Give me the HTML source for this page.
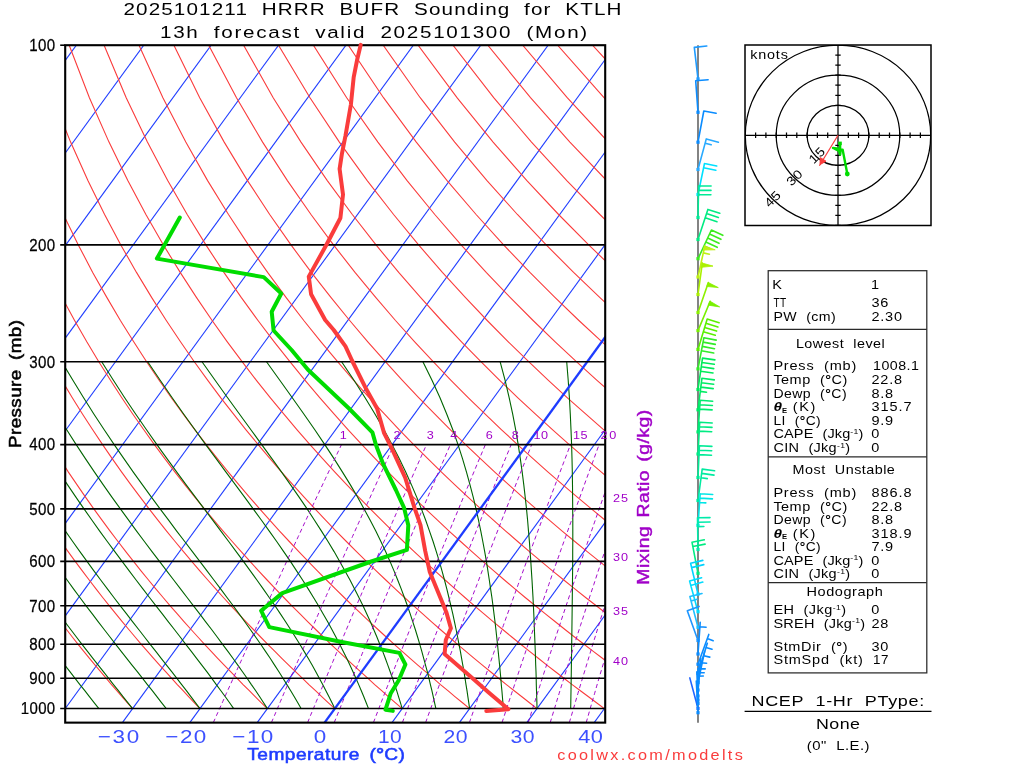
<!DOCTYPE html>
<html lang="en"><head><meta charset="utf-8"><title>2025101211 HRRR BUFR Sounding for KTLH</title>
<style>html,body{margin:0;padding:0;background:#fff}body{width:1024px;height:768px;overflow:hidden}svg{display:block}text{font-family:"Liberation Sans",sans-serif;white-space:pre}</style>
</head><body>
<svg width="1024" height="768" viewBox="0 0 1024 768">
<rect width="1024" height="768" fill="#fff"/>
<defs><clipPath id="pc"><rect x="65.2" y="45.20" width="540.0" height="677.43"/></clipPath></defs>
<g clip-path="url(#pc)" fill="none" stroke-linecap="butt">
<g stroke="#1E3CFF" stroke-width="1.1">
<line x1="-484.21" y1="722.63" x2="8.96" y2="45.20"/>
<line x1="-416.81" y1="722.63" x2="76.36" y2="45.20"/>
<line x1="-349.41" y1="722.63" x2="143.76" y2="45.20"/>
<line x1="-282.01" y1="722.63" x2="211.16" y2="45.20"/>
<line x1="-214.61" y1="722.63" x2="278.56" y2="45.20"/>
<line x1="-147.21" y1="722.63" x2="345.96" y2="45.20"/>
<line x1="-79.81" y1="722.63" x2="413.36" y2="45.20"/>
<line x1="-12.41" y1="722.63" x2="480.76" y2="45.20"/>
<line x1="54.99" y1="722.63" x2="548.16" y2="45.20"/>
<line x1="122.39" y1="722.63" x2="615.56" y2="45.20"/>
<line x1="189.79" y1="722.63" x2="682.96" y2="45.20"/>
<line x1="257.19" y1="722.63" x2="750.36" y2="45.20"/>
<line x1="391.99" y1="722.63" x2="885.16" y2="45.20"/>
<line x1="459.39" y1="722.63" x2="952.56" y2="45.20"/>
<line x1="526.79" y1="722.63" x2="1019.96" y2="45.20"/>
<line x1="594.19" y1="722.63" x2="1087.36" y2="45.20"/>
</g>
<g stroke="#FA3C3C" stroke-width="1.1">
<polyline points="132.6,708.6 127.4,702.8 122.2,696.8 116.8,690.7 111.5,684.6 106.1,678.2 100.6,671.7 95.1,665.1 89.5,658.3 83.8,651.4 78.1,644.3 72.3,637.0 66.5,629.5 60.5,621.8 54.6,613.9 48.5,605.8 42.4,597.5 36.1,588.9 29.8,580.0 23.5,570.9 17.0,561.4 10.4,551.6 3.8,541.5 -2.9,531.1 -9.8,520.2 -16.7,508.9 -23.7,497.1 -30.9,484.9 -38.2,472.1 -45.5,458.6 -53.0,444.6 -60.6,429.8 -68.3,414.2 -76.2,397.8 -84.2,380.3 -92.3,361.7 -100.5,341.8 -108.8,320.5 -117.3,297.4 -125.8,272.4 -134.4,244.9 -143.0,214.5 -151.5,180.6 -159.9,142.1 -167.8,97.7 -175.0,45.2"/>
<polyline points="200.0,708.6 194.4,702.8 188.8,696.8 183.1,690.7 177.3,684.6 171.5,678.2 165.6,671.7 159.6,665.1 153.6,658.3 147.5,651.4 141.3,644.3 135.1,637.0 128.8,629.5 122.4,621.8 115.9,613.9 109.4,605.8 102.7,597.5 96.0,588.9 89.2,580.0 82.3,570.9 75.2,561.4 68.1,551.6 60.9,541.5 53.6,531.1 46.1,520.2 38.6,508.9 30.9,497.1 23.1,484.9 15.1,472.1 7.1,458.6 -1.1,444.6 -9.5,429.8 -18.0,414.2 -26.7,397.8 -35.5,380.3 -44.5,361.7 -53.7,341.8 -63.0,320.5 -72.5,297.4 -82.1,272.4 -91.9,244.9 -101.7,214.5 -111.6,180.6 -121.5,142.1 -131.1,97.7 -140.1,45.2"/>
<polyline points="267.4,708.6 261.4,702.8 255.4,696.8 249.3,690.7 243.1,684.6 236.9,678.2 230.6,671.7 224.2,665.1 217.7,658.3 211.2,651.4 204.6,644.3 197.9,637.0 191.1,629.5 184.2,621.8 177.3,613.9 170.2,605.8 163.1,597.5 155.8,588.9 148.5,580.0 141.0,570.9 133.5,561.4 125.8,551.6 118.0,541.5 110.1,531.1 102.0,520.2 93.8,508.9 85.5,497.1 77.1,484.9 68.4,472.1 59.7,458.6 50.7,444.6 41.6,429.8 32.3,414.2 22.8,397.8 13.1,380.3 3.3,361.7 -6.8,341.8 -17.1,320.5 -27.6,297.4 -38.4,272.4 -49.3,244.9 -60.5,214.5 -71.7,180.6 -83.1,142.1 -94.3,97.7 -105.2,45.2"/>
<polyline points="334.8,708.6 328.4,702.8 322.0,696.8 315.5,690.7 308.9,684.6 302.3,678.2 295.5,671.7 288.7,665.1 281.8,658.3 274.9,651.4 267.8,644.3 260.6,637.0 253.4,629.5 246.1,621.8 238.6,613.9 231.1,605.8 223.4,597.5 215.7,588.9 207.8,580.0 199.8,570.9 191.7,561.4 183.5,551.6 175.1,541.5 166.6,531.1 157.9,520.2 149.1,508.9 140.2,497.1 131.0,484.9 121.7,472.1 112.2,458.6 102.6,444.6 92.7,429.8 82.6,414.2 72.3,397.8 61.8,380.3 51.0,361.7 40.0,341.8 28.7,320.5 17.2,297.4 5.3,272.4 -6.8,244.9 -19.2,214.5 -31.8,180.6 -44.7,142.1 -57.6,97.7 -70.3,45.2"/>
<polyline points="402.2,708.6 395.5,702.8 388.6,696.8 381.7,690.7 374.7,684.6 367.7,678.2 360.5,671.7 353.3,665.1 346.0,658.3 338.5,651.4 331.0,644.3 323.4,637.0 315.7,629.5 307.9,621.8 300.0,613.9 291.9,605.8 283.8,597.5 275.5,588.9 267.1,580.0 258.6,570.9 250.0,561.4 241.2,551.6 232.2,541.5 223.1,531.1 213.8,520.2 204.4,508.9 194.8,497.1 185.0,484.9 175.0,472.1 164.8,458.6 154.4,444.6 143.8,429.8 132.9,414.2 121.8,397.8 110.5,380.3 98.8,361.7 86.8,341.8 74.6,320.5 62.0,297.4 49.0,272.4 35.7,244.9 22.1,214.5 8.1,180.6 -6.2,142.1 -20.8,97.7 -35.5,45.2"/>
<polyline points="469.6,708.6 462.5,702.8 455.2,696.8 447.9,690.7 440.5,684.6 433.1,678.2 425.5,671.7 417.8,665.1 410.1,658.3 402.2,651.4 394.3,644.3 386.2,637.0 378.0,629.5 369.7,621.8 361.3,613.9 352.8,605.8 344.2,597.5 335.4,588.9 326.5,580.0 317.4,570.9 308.2,561.4 298.8,551.6 289.3,541.5 279.6,531.1 269.7,520.2 259.7,508.9 249.4,497.1 239.0,484.9 228.3,472.1 217.4,458.6 206.3,444.6 194.9,429.8 183.3,414.2 171.3,397.8 159.1,380.3 146.6,361.7 133.7,341.8 120.4,320.5 106.8,297.4 92.7,272.4 78.3,244.9 63.4,214.5 48.0,180.6 32.2,142.1 15.9,97.7 -0.6,45.2"/>
<polyline points="537.0,708.6 529.5,702.8 521.9,696.8 514.2,690.7 506.4,684.6 498.5,678.2 490.5,671.7 482.4,665.1 474.2,658.3 465.9,651.4 457.5,644.3 449.0,637.0 440.3,629.5 431.6,621.8 422.7,613.9 413.7,605.8 404.5,597.5 395.2,588.9 385.8,580.0 376.2,570.9 366.4,561.4 356.5,551.6 346.4,541.5 336.1,531.1 325.6,520.2 315.0,508.9 304.1,497.1 293.0,484.9 281.6,472.1 270.0,458.6 258.2,444.6 246.0,429.8 233.6,414.2 220.8,397.8 207.8,380.3 194.3,361.7 180.5,341.8 166.3,320.5 151.6,297.4 136.5,272.4 120.8,244.9 104.6,214.5 87.9,180.6 70.6,142.1 52.7,97.7 34.3,45.2"/>
<polyline points="604.4,708.6 596.5,702.8 588.5,696.8 580.4,690.7 572.2,684.6 563.9,678.2 555.5,671.7 546.9,665.1 538.3,658.3 529.6,651.4 520.7,644.3 511.8,637.0 502.7,629.5 493.4,621.8 484.0,613.9 474.5,605.8 464.9,597.5 455.1,588.9 445.1,580.0 435.0,570.9 424.7,561.4 414.2,551.6 403.5,541.5 392.6,531.1 381.5,520.2 370.2,508.9 358.7,497.1 346.9,484.9 334.9,472.1 322.6,458.6 310.0,444.6 297.1,429.8 283.9,414.2 270.4,397.8 256.4,380.3 242.1,361.7 227.3,341.8 212.1,320.5 196.4,297.4 180.2,272.4 163.4,244.9 145.9,214.5 127.8,180.6 109.0,142.1 89.4,97.7 69.2,45.2"/>
<polyline points="671.8,708.6 663.5,702.8 655.1,696.8 646.6,690.7 638.0,684.6 629.3,678.2 620.4,671.7 611.5,665.1 602.4,658.3 593.3,651.4 584.0,644.3 574.5,637.0 565.0,629.5 555.3,621.8 545.4,613.9 535.4,605.8 525.2,597.5 514.9,588.9 504.4,580.0 493.8,570.9 482.9,561.4 471.9,551.6 460.6,541.5 449.1,531.1 437.5,520.2 425.5,508.9 413.4,497.1 400.9,484.9 388.2,472.1 375.2,458.6 361.9,444.6 348.2,429.8 334.2,414.2 319.9,397.8 305.1,380.3 289.9,361.7 274.2,341.8 258.0,320.5 241.2,297.4 223.9,272.4 205.9,244.9 187.2,214.5 167.7,180.6 147.4,142.1 126.2,97.7 104.1,45.2"/>
<polyline points="739.2,708.6 730.5,702.8 721.7,696.8 712.8,690.7 703.8,684.6 694.7,678.2 685.4,671.7 676.1,665.1 666.6,658.3 656.9,651.4 647.2,644.3 637.3,637.0 627.3,629.5 617.1,621.8 606.8,613.9 596.3,605.8 585.6,597.5 574.8,588.9 563.8,580.0 552.5,570.9 541.1,561.4 529.5,551.6 517.7,541.5 505.7,531.1 493.4,520.2 480.8,508.9 468.0,497.1 454.9,484.9 441.5,472.1 427.8,458.6 413.7,444.6 399.3,429.8 384.6,414.2 369.4,397.8 353.7,380.3 337.6,361.7 321.0,341.8 303.8,320.5 286.0,297.4 267.6,272.4 248.4,244.9 228.5,214.5 207.6,180.6 185.8,142.1 162.9,97.7 139.0,45.2"/>
<polyline points="806.6,708.6 797.5,702.8 788.3,696.8 779.0,690.7 769.6,684.6 760.1,678.2 750.4,671.7 740.6,665.1 730.7,658.3 720.6,651.4 710.4,644.3 700.1,637.0 689.6,629.5 678.9,621.8 668.1,613.9 657.1,605.8 646.0,597.5 634.6,588.9 623.1,580.0 611.3,570.9 599.4,561.4 587.2,551.6 574.8,541.5 562.2,531.1 549.3,520.2 536.1,508.9 522.6,497.1 508.9,484.9 494.8,472.1 480.4,458.6 465.6,444.6 450.5,429.8 434.9,414.2 418.9,397.8 402.4,380.3 385.4,361.7 367.8,341.8 349.7,320.5 330.9,297.4 311.3,272.4 291.0,244.9 269.7,214.5 247.5,180.6 224.2,142.1 199.7,97.7 173.9,45.2"/>
<polyline points="874.0,708.6 864.5,702.8 855.0,696.8 845.2,690.7 835.4,684.6 825.5,678.2 815.4,671.7 805.2,665.1 794.8,658.3 784.3,651.4 773.7,644.3 762.9,637.0 751.9,629.5 740.8,621.8 729.5,613.9 718.0,605.8 706.3,597.5 694.5,588.9 682.4,580.0 670.1,570.9 657.6,561.4 644.9,551.6 631.9,541.5 618.7,531.1 605.2,520.2 591.4,508.9 577.3,497.1 562.9,484.9 548.1,472.1 533.0,458.6 517.5,444.6 501.6,429.8 485.2,414.2 468.4,397.8 451.0,380.3 433.2,361.7 414.7,341.8 395.5,320.5 375.7,297.4 355.0,272.4 333.5,244.9 311.0,214.5 287.4,180.6 262.6,142.1 236.5,97.7 208.7,45.2"/>
<polyline points="941.4,708.6 931.6,702.8 921.6,696.8 911.5,690.7 901.2,684.6 890.9,678.2 880.4,671.7 869.7,665.1 858.9,658.3 848.0,651.4 836.9,644.3 825.6,637.0 814.2,629.5 802.6,621.8 790.8,613.9 778.9,605.8 766.7,597.5 754.3,588.9 741.7,580.0 728.9,570.9 715.9,561.4 702.6,551.6 689.0,541.5 675.2,531.1 661.1,520.2 646.6,508.9 631.9,497.1 616.8,484.9 601.4,472.1 585.6,458.6 569.3,444.6 552.7,429.8 535.5,414.2 517.9,397.8 499.7,380.3 480.9,361.7 461.5,341.8 441.4,320.5 420.5,297.4 398.7,272.4 376.0,244.9 352.3,214.5 327.3,180.6 301.0,142.1 273.2,97.7 243.6,45.2"/>
<polyline points="1008.8,708.6 998.6,702.8 988.2,696.8 977.7,690.7 967.0,684.6 956.3,678.2 945.3,671.7 934.3,665.1 923.1,658.3 911.7,651.4 900.1,644.3 888.4,637.0 876.5,629.5 864.5,621.8 852.2,613.9 839.7,605.8 827.1,597.5 814.2,588.9 801.0,580.0 787.7,570.9 774.1,561.4 760.2,551.6 746.1,541.5 731.7,531.1 717.0,520.2 701.9,508.9 686.5,497.1 670.8,484.9 654.7,472.1 638.2,458.6 621.2,444.6 603.8,429.8 585.9,414.2 567.4,397.8 548.4,380.3 528.7,361.7 508.3,341.8 487.2,320.5 465.3,297.4 442.4,272.4 418.6,244.9 393.6,214.5 367.2,180.6 339.4,142.1 310.0,97.7 278.5,45.2"/>
<polyline points="1076.2,708.6 1065.6,702.8 1054.8,696.8 1043.9,690.7 1032.9,684.6 1021.7,678.2 1010.3,671.7 998.8,665.1 987.2,658.3 975.4,651.4 963.4,644.3 951.2,637.0 938.8,629.5 926.3,621.8 913.5,613.9 900.6,605.8 887.4,597.5 874.0,588.9 860.4,580.0 846.5,570.9 832.3,561.4 817.9,551.6 803.2,541.5 788.2,531.1 772.9,520.2 757.2,508.9 741.2,497.1 724.8,484.9 708.0,472.1 690.7,458.6 673.1,444.6 654.9,429.8 636.2,414.2 616.9,397.8 597.0,380.3 576.4,361.7 555.2,341.8 533.1,320.5 510.1,297.4 486.2,272.4 461.1,244.9 434.8,214.5 407.1,180.6 377.9,142.1 346.7,97.7 313.4,45.2"/>
<polyline points="1143.6,708.6 1132.6,702.8 1121.4,696.8 1110.1,690.7 1098.7,684.6 1087.1,678.2 1075.3,671.7 1063.4,665.1 1051.3,658.3 1039.0,651.4 1026.6,644.3 1014.0,637.0 1001.1,629.5 988.1,621.8 974.9,613.9 961.4,605.8 947.8,597.5 933.9,588.9 919.7,580.0 905.3,570.9 890.6,561.4 875.6,551.6 860.3,541.5 844.7,531.1 828.8,520.2 812.5,508.9 795.8,497.1 778.8,484.9 761.3,472.1 743.3,458.6 724.9,444.6 706.0,429.8 686.5,414.2 666.4,397.8 645.7,380.3 624.2,361.7 602.0,341.8 578.9,320.5 554.9,297.4 529.9,272.4 503.6,244.9 476.1,214.5 447.1,180.6 416.3,142.1 383.5,97.7 348.3,45.2"/>
<polyline points="1211.0,708.6 1199.6,702.8 1188.0,696.8 1176.3,690.7 1164.5,684.6 1152.5,678.2 1140.3,671.7 1127.9,665.1 1115.4,658.3 1102.7,651.4 1089.8,644.3 1076.7,637.0 1063.5,629.5 1050.0,621.8 1036.3,613.9 1022.3,605.8 1008.1,597.5 993.7,588.9 979.0,580.0 964.1,570.9 948.8,561.4 933.3,551.6 917.4,541.5 901.2,531.1 884.7,520.2 867.8,508.9 850.5,497.1 832.7,484.9 814.6,472.1 795.9,458.6 776.8,444.6 757.1,429.8 736.8,414.2 715.9,397.8 694.3,380.3 672.0,361.7 648.8,341.8 624.8,320.5 599.7,297.4 573.6,272.4 546.2,244.9 517.4,214.5 487.0,180.6 454.7,142.1 420.2,97.7 383.2,45.2"/>
<polyline points="1278.4,708.6 1266.6,702.8 1254.7,696.8 1242.6,690.7 1230.3,684.6 1217.9,678.2 1205.3,671.7 1192.5,665.1 1179.5,658.3 1166.4,651.4 1153.1,644.3 1139.5,637.0 1125.8,629.5 1111.8,621.8 1097.6,613.9 1083.2,605.8 1068.5,597.5 1053.6,588.9 1038.3,580.0 1022.8,570.9 1007.1,561.4 990.9,551.6 974.5,541.5 957.7,531.1 940.6,520.2 923.0,508.9 905.1,497.1 886.7,484.9 867.9,472.1 848.5,458.6 828.6,444.6 808.2,429.8 787.1,414.2 765.4,397.8 743.0,380.3 719.7,361.7 695.7,341.8 670.6,320.5 644.5,297.4 617.3,272.4 588.7,244.9 558.6,214.5 526.9,180.6 493.1,142.1 457.0,97.7 418.1,45.2"/>
<polyline points="1345.8,708.6 1333.6,702.8 1321.3,696.8 1308.8,690.7 1296.1,684.6 1283.3,678.2 1270.2,671.7 1257.0,665.1 1243.7,658.3 1230.1,651.4 1216.3,644.3 1202.3,637.0 1188.1,629.5 1173.6,621.8 1159.0,613.9 1144.0,605.8 1128.9,597.5 1113.4,588.9 1097.7,580.0 1081.6,570.9 1065.3,561.4 1048.6,551.6 1031.6,541.5 1014.2,531.1 996.5,520.2 978.3,508.9 959.7,497.1 940.7,484.9 921.2,472.1 901.1,458.6 880.5,444.6 859.3,429.8 837.5,414.2 814.9,397.8 791.6,380.3 767.5,361.7 742.5,341.8 716.5,320.5 689.4,297.4 661.0,272.4 631.2,244.9 599.9,214.5 566.8,180.6 531.5,142.1 493.7,97.7 453.0,45.2"/>
<polyline points="1413.2,708.6 1400.6,702.8 1387.9,696.8 1375.0,690.7 1361.9,684.6 1348.7,678.2 1335.2,671.7 1321.6,665.1 1307.8,658.3 1293.8,651.4 1279.5,644.3 1265.1,637.0 1250.4,629.5 1235.5,621.8 1220.3,613.9 1204.9,605.8 1189.2,597.5 1173.3,588.9 1157.0,580.0 1140.4,570.9 1123.5,561.4 1106.3,551.6 1088.7,541.5 1070.8,531.1 1052.4,520.2 1033.6,508.9 1014.4,497.1 994.7,484.9 974.5,472.1 953.7,458.6 932.4,444.6 910.4,429.8 887.8,414.2 864.4,397.8 840.3,380.3 815.3,361.7 789.3,341.8 762.3,320.5 734.2,297.4 704.7,272.4 673.8,244.9 641.2,214.5 606.7,180.6 569.9,142.1 530.5,97.7 487.8,45.2"/>
<polyline points="1480.6,708.6 1467.6,702.8 1454.5,696.8 1441.2,690.7 1427.7,684.6 1414.1,678.2 1400.2,671.7 1386.2,665.1 1371.9,658.3 1357.4,651.4 1342.8,644.3 1327.9,637.0 1312.7,629.5 1297.3,621.8 1281.7,613.9 1265.8,605.8 1249.6,597.5 1233.1,588.9 1216.3,580.0 1199.2,570.9 1181.8,561.4 1164.0,551.6 1145.8,541.5 1127.3,531.1 1108.3,520.2 1088.9,508.9 1069.0,497.1 1048.6,484.9 1027.7,472.1 1006.3,458.6 984.2,444.6 961.5,429.8 938.1,414.2 913.9,397.8 888.9,380.3 863.0,361.7 836.2,341.8 808.2,320.5 779.0,297.4 748.4,272.4 716.3,244.9 682.5,214.5 646.6,180.6 608.3,142.1 567.2,97.7 522.7,45.2"/>
<polyline points="1548.0,708.6 1534.7,702.8 1521.1,696.8 1507.4,690.7 1493.5,684.6 1479.5,678.2 1465.2,671.7 1450.7,665.1 1436.0,658.3 1421.1,651.4 1406.0,644.3 1390.6,637.0 1375.0,629.5 1359.2,621.8 1343.0,613.9 1326.6,605.8 1309.9,597.5 1292.9,588.9 1275.6,580.0 1258.0,570.9 1240.0,561.4 1221.7,551.6 1202.9,541.5 1183.8,531.1 1164.2,520.2 1144.2,508.9 1123.6,497.1 1102.6,484.9 1081.0,472.1 1058.9,458.6 1036.1,444.6 1012.6,429.8 988.4,414.2 963.4,397.8 937.6,380.3 910.8,361.7 883.0,341.8 854.0,320.5 823.8,297.4 792.1,272.4 758.9,244.9 723.7,214.5 686.5,180.6 646.7,142.1 604.0,97.7 557.6,45.2"/>
<polyline points="1615.4,708.6 1601.7,702.8 1587.7,696.8 1573.6,690.7 1559.3,684.6 1544.9,678.2 1530.2,671.7 1515.3,665.1 1500.1,658.3 1484.8,651.4 1469.2,644.3 1453.4,637.0 1437.3,629.5 1421.0,621.8 1404.4,613.9 1387.5,605.8 1370.3,597.5 1352.8,588.9 1335.0,580.0 1316.8,570.9 1298.2,561.4 1279.3,551.6 1260.0,541.5 1240.3,531.1 1220.1,520.2 1199.4,508.9 1178.3,497.1 1156.6,484.9 1134.3,472.1 1111.5,458.6 1088.0,444.6 1063.7,429.8 1038.8,414.2 1013.0,397.8 986.3,380.3 958.6,361.7 929.8,341.8 899.9,320.5 868.6,297.4 835.8,272.4 801.4,244.9 765.0,214.5 726.4,180.6 685.1,142.1 640.8,97.7 592.5,45.2"/>
<polyline points="1682.8,708.6 1668.7,702.8 1654.4,696.8 1639.9,690.7 1625.2,684.6 1610.3,678.2 1595.1,671.7 1579.8,665.1 1564.3,658.3 1548.5,651.4 1532.5,644.3 1516.2,637.0 1499.6,629.5 1482.8,621.8 1465.7,613.9 1448.4,605.8 1430.7,597.5 1412.6,588.9 1394.3,580.0 1375.6,570.9 1356.5,561.4 1337.0,551.6 1317.1,541.5 1296.8,531.1 1276.0,520.2 1254.7,508.9 1232.9,497.1 1210.6,484.9 1187.6,472.1 1164.1,458.6 1139.8,444.6 1114.8,429.8 1089.1,414.2 1062.5,397.8 1034.9,380.3 1006.3,361.7 976.7,341.8 945.7,320.5 913.4,297.4 879.6,272.4 843.9,244.9 806.3,214.5 766.3,180.6 723.6,142.1 677.5,97.7 627.4,45.2"/>
</g>
<g stroke="#006400" stroke-width="1.1">
<polyline points="98.9,708.6 94.3,702.8 89.6,696.8 84.8,690.7 79.9,684.6 74.9,678.2 69.9,671.7 64.8,665.1 59.6,658.3 54.3,651.4 48.9,644.3 43.5,637.0 38.0,629.5 32.4,621.8 26.7,613.9 21.0,605.8 15.1,597.5 9.2,588.9 3.2,580.0 -2.9,570.9 -9.1,561.4 -15.4,551.6 -21.8,541.5 -28.3,531.1 -34.8,520.2 -41.5,508.9 -48.2,497.1 -55.1,484.9 -62.1,472.1 -69.2,458.6 -76.4,444.6 -83.7,429.8 -91.1,414.2 -98.6,397.8 -106.2,380.3 -114.0,361.7 -114.0,361.7"/>
<polyline points="132.6,708.6 128.0,702.8 123.2,696.8 118.4,690.7 113.5,684.6 108.5,678.2 103.4,671.7 98.2,665.1 92.9,658.3 87.5,651.4 82.0,644.3 76.4,637.0 70.7,629.5 64.9,621.8 59.1,613.9 53.1,605.8 47.1,597.5 40.9,588.9 34.7,580.0 28.3,570.9 21.8,561.4 15.3,551.6 8.6,541.5 1.9,531.1 -5.0,520.2 -12.0,508.9 -19.1,497.1 -26.3,484.9 -33.6,472.1 -41.1,458.6 -48.7,444.6 -56.4,429.8 -64.2,414.2 -72.2,397.8 -80.3,380.3 -88.5,361.7 -88.5,361.7"/>
<polyline points="166.3,708.6 161.7,702.8 157.1,696.8 152.3,690.7 147.4,684.6 142.4,678.2 137.3,671.7 132.0,665.1 126.7,658.3 121.2,651.4 115.7,644.3 110.0,637.0 104.2,629.5 98.3,621.8 92.3,613.9 86.1,605.8 79.9,597.5 73.5,588.9 67.1,580.0 60.5,570.9 53.8,561.4 46.9,551.6 40.0,541.5 32.9,531.1 25.8,520.2 18.5,508.9 11.0,497.1 3.5,484.9 -4.2,472.1 -12.1,458.6 -20.0,444.6 -28.2,429.8 -36.4,414.2 -44.8,397.8 -53.4,380.3 -62.1,361.7 -62.1,361.7"/>
<polyline points="200.0,708.6 195.6,702.8 191.1,696.8 186.4,690.7 181.7,684.6 176.7,678.2 171.7,671.7 166.5,665.1 161.2,658.3 155.8,651.4 150.2,644.3 144.5,637.0 138.7,629.5 132.7,621.8 126.6,613.9 120.3,605.8 113.9,597.5 107.4,588.9 100.7,580.0 93.9,570.9 87.0,561.4 79.9,551.6 72.7,541.5 65.4,531.1 57.9,520.2 50.3,508.9 42.5,497.1 34.6,484.9 26.5,472.1 18.3,458.6 9.9,444.6 1.4,429.8 -7.3,414.2 -16.2,397.8 -25.3,380.3 -34.5,361.7 -34.5,361.7"/>
<polyline points="233.7,708.6 229.6,702.8 225.3,696.8 220.9,690.7 216.3,684.6 211.6,678.2 206.8,671.7 201.8,665.1 196.6,658.3 191.3,651.4 185.8,644.3 180.2,637.0 174.4,629.5 168.4,621.8 162.3,613.9 156.0,605.8 149.5,597.5 142.9,588.9 136.1,580.0 129.2,570.9 122.1,561.4 114.8,551.6 107.3,541.5 99.7,531.1 92.0,520.2 84.0,508.9 75.9,497.1 67.6,484.9 59.2,472.1 50.5,458.6 41.7,444.6 32.7,429.8 23.6,414.2 14.2,397.8 4.6,380.3 -5.2,361.7 -5.2,361.7"/>
<polyline points="267.4,708.6 263.6,702.8 259.7,696.8 255.7,690.7 251.4,684.6 247.1,678.2 242.5,671.7 237.8,665.1 232.9,658.3 227.9,651.4 222.6,644.3 217.2,637.0 211.6,629.5 205.7,621.8 199.7,613.9 193.5,605.8 187.1,597.5 180.5,588.9 173.7,580.0 166.7,570.9 159.5,561.4 152.0,551.6 144.4,541.5 136.6,531.1 128.6,520.2 120.4,508.9 111.9,497.1 103.3,484.9 94.5,472.1 85.4,458.6 76.2,444.6 66.7,429.8 57.0,414.2 47.1,397.8 37.0,380.3 26.6,361.7 26.6,361.7"/>
<polyline points="301.1,708.6 297.8,702.8 294.3,696.8 290.7,690.7 286.9,684.6 283.0,678.2 278.9,671.7 274.6,665.1 270.2,658.3 265.5,651.4 260.7,644.3 255.6,637.0 250.3,629.5 244.8,621.8 239.1,613.9 233.2,605.8 227.0,597.5 220.6,588.9 213.9,580.0 207.0,570.9 199.8,561.4 192.4,551.6 184.7,541.5 176.7,531.1 168.6,520.2 160.1,508.9 151.4,497.1 142.5,484.9 133.3,472.1 123.9,458.6 114.2,444.6 104.2,429.8 94.0,414.2 83.6,397.8 72.9,380.3 61.8,361.7 61.8,361.7"/>
<polyline points="334.8,708.6 332.0,702.8 329.0,696.8 325.9,690.7 322.7,684.6 319.3,678.2 315.8,671.7 312.1,665.1 308.2,658.3 304.1,651.4 299.8,644.3 295.3,637.0 290.6,629.5 285.6,621.8 280.4,613.9 275.0,605.8 269.2,597.5 263.2,588.9 256.9,580.0 250.3,570.9 243.4,561.4 236.2,551.6 228.7,541.5 220.9,531.1 212.7,520.2 204.2,508.9 195.4,497.1 186.2,484.9 176.8,472.1 167.0,458.6 156.9,444.6 146.5,429.8 135.8,414.2 124.7,397.8 113.4,380.3 101.7,361.7 101.7,361.7"/>
<polyline points="368.5,708.6 366.2,702.8 363.8,696.8 361.3,690.7 358.7,684.6 355.9,678.2 353.0,671.7 349.9,665.1 346.7,658.3 343.3,651.4 339.7,644.3 335.9,637.0 331.9,629.5 327.7,621.8 323.2,613.9 318.5,605.8 313.5,597.5 308.2,588.9 302.6,580.0 296.6,570.9 290.4,561.4 283.7,551.6 276.7,541.5 269.3,531.1 261.5,520.2 253.2,508.9 244.6,497.1 235.5,484.9 226.0,472.1 216.1,458.6 205.7,444.6 195.0,429.8 183.8,414.2 172.2,397.8 160.2,380.3 147.7,361.7 147.7,361.7"/>
<polyline points="402.2,708.6 400.5,702.8 398.6,696.8 396.7,690.7 394.6,684.6 392.5,678.2 390.2,671.7 387.8,665.1 385.3,658.3 382.7,651.4 379.8,644.3 376.9,637.0 373.7,629.5 370.4,621.8 366.8,613.9 363.0,605.8 358.9,597.5 354.6,588.9 350.0,580.0 345.0,570.9 339.7,561.4 334.1,551.6 328.0,541.5 321.5,531.1 314.5,520.2 307.1,508.9 299.1,497.1 290.6,484.9 281.6,472.1 271.9,458.6 261.7,444.6 250.9,429.8 239.6,414.2 227.6,397.8 215.1,380.3 202.0,361.7 202.0,361.7"/>
<polyline points="435.9,708.6 434.6,702.8 433.3,696.8 431.9,690.7 430.4,684.6 428.9,678.2 427.3,671.7 425.5,665.1 423.7,658.3 421.8,651.4 419.8,644.3 417.6,637.0 415.3,629.5 412.8,621.8 410.2,613.9 407.4,605.8 404.4,597.5 401.2,588.9 397.7,580.0 394.0,570.9 390.0,561.4 385.6,551.6 380.9,541.5 375.8,531.1 370.2,520.2 364.1,508.9 357.5,497.1 350.4,484.9 342.5,472.1 334.0,458.6 324.8,444.6 314.8,429.8 304.0,414.2 292.3,397.8 279.8,380.3 266.5,361.7 266.5,361.7"/>
<polyline points="469.6,708.6 468.8,702.8 467.9,696.8 467.0,690.7 466.0,684.6 465.0,678.2 464.0,671.7 462.8,665.1 461.6,658.3 460.4,651.4 459.0,644.3 457.6,637.0 456.1,629.5 454.5,621.8 452.8,613.9 450.9,605.8 448.9,597.5 446.8,588.9 444.5,580.0 442.0,570.9 439.3,561.4 436.3,551.6 433.1,541.5 429.5,531.1 425.7,520.2 421.4,508.9 416.7,497.1 411.5,484.9 405.7,472.1 399.2,458.6 392.0,444.6 384.0,429.8 375.1,414.2 365.1,397.8 354.0,380.3 341.6,361.7 341.6,361.7"/>
<polyline points="503.3,708.6 502.9,702.8 502.4,696.8 501.9,690.7 501.3,684.6 500.8,678.2 500.2,671.7 499.6,665.1 498.9,658.3 498.2,651.4 497.5,644.3 496.7,637.0 495.9,629.5 495.0,621.8 494.0,613.9 493.0,605.8 491.9,597.5 490.6,588.9 489.3,580.0 487.9,570.9 486.4,561.4 484.7,551.6 482.8,541.5 480.8,531.1 478.5,520.2 476.0,508.9 473.2,497.1 470.0,484.9 466.5,472.1 462.5,458.6 458.0,444.6 452.8,429.8 446.8,414.2 440.0,397.8 432.0,380.3 422.9,361.7 422.9,361.7"/>
<polyline points="537.0,708.6 536.9,702.8 536.7,696.8 536.5,690.7 536.3,684.6 536.2,678.2 536.0,671.7 535.7,665.1 535.5,658.3 535.3,651.4 535.0,644.3 534.7,637.0 534.4,629.5 534.1,621.8 533.8,613.9 533.4,605.8 533.0,597.5 532.5,588.9 532.0,580.0 531.4,570.9 530.8,561.4 530.1,551.6 529.4,541.5 528.5,531.1 527.6,520.2 526.5,508.9 525.2,497.1 523.8,484.9 522.2,472.1 520.3,458.6 518.2,444.6 515.7,429.8 512.7,414.2 509.2,397.8 505.1,380.3 500.1,361.7 500.1,361.7"/>
<polyline points="570.7,708.6 570.8,702.8 570.9,696.8 571.0,690.7 571.1,684.6 571.2,678.2 571.3,671.7 571.4,665.1 571.5,658.3 571.6,651.4 571.7,644.3 571.8,637.0 571.9,629.5 572.0,621.8 572.1,613.9 572.2,605.8 572.3,597.5 572.4,588.9 572.5,580.0 572.6,570.9 572.7,561.4 572.7,551.6 572.8,541.5 572.8,531.1 572.8,520.2 572.7,508.9 572.6,497.1 572.5,484.9 572.3,472.1 572.0,458.6 571.6,444.6 571.0,429.8 570.3,414.2 569.4,397.8 568.2,380.3 566.7,361.7 566.7,361.7"/>
</g>
<g stroke="#A000C8" stroke-width="0.95" stroke-dasharray="4.2 3">
<polyline points="213.3,722.6 216.4,715.7 219.6,708.6 222.9,701.3 226.2,693.8 229.7,686.1 233.3,678.2 236.9,670.1 240.7,661.8 244.6,653.2 248.7,644.3 252.8,635.1 257.1,625.7 261.6,615.9 266.2,605.8 271.1,595.3 276.1,584.5 281.3,573.2 286.7,561.4 292.4,549.1 298.4,536.3 304.6,522.9 311.2,508.9 318.1,494.1 325.5,478.5 333.2,462.1 341.5,444.6 341.5,444.6"/>
<polyline points="271.4,722.6 274.4,715.7 277.4,708.6 280.5,701.3 283.7,693.8 287.0,686.1 290.4,678.2 293.9,670.1 297.5,661.8 301.3,653.2 305.1,644.3 309.1,635.1 313.2,625.7 317.5,615.9 321.9,605.8 326.5,595.3 331.3,584.5 336.3,573.2 341.5,561.4 346.9,549.1 352.6,536.3 358.6,522.9 364.9,508.9 371.6,494.1 378.6,478.5 386.0,462.1 394.0,444.6 394.0,444.6"/>
<polyline points="307.6,722.6 310.4,715.7 313.4,708.6 316.4,701.3 319.5,693.8 322.7,686.1 326.0,678.2 329.3,670.1 332.8,661.8 336.4,653.2 340.2,644.3 344.0,635.1 348.0,625.7 352.1,615.9 356.4,605.8 360.9,595.3 365.5,584.5 370.4,573.2 375.4,561.4 380.7,549.1 386.3,536.3 392.1,522.9 398.2,508.9 404.7,494.1 411.5,478.5 418.7,462.1 426.5,444.6 426.5,444.6"/>
<polyline points="334.2,722.6 337.0,715.7 339.9,708.6 342.8,701.3 345.8,693.8 349.0,686.1 352.2,678.2 355.5,670.1 358.9,661.8 362.4,653.2 366.0,644.3 369.8,635.1 373.7,625.7 377.7,615.9 381.9,605.8 386.3,595.3 390.8,584.5 395.5,573.2 400.5,561.4 405.6,549.1 411.0,536.3 416.7,522.9 422.7,508.9 429.0,494.1 435.7,478.5 442.8,462.1 450.4,444.6 450.4,444.6"/>
<polyline points="373.4,722.6 376.1,715.7 378.8,708.6 381.6,701.3 384.5,693.8 387.5,686.1 390.6,678.2 393.8,670.1 397.1,661.8 400.4,653.2 403.9,644.3 407.6,635.1 411.3,625.7 415.2,615.9 419.2,605.8 423.4,595.3 427.8,584.5 432.4,573.2 437.1,561.4 442.1,549.1 447.3,536.3 452.8,522.9 458.6,508.9 464.7,494.1 471.2,478.5 478.0,462.1 485.4,444.6 485.4,444.6"/>
<polyline points="402.4,722.6 404.9,715.7 407.6,708.6 410.3,701.3 413.1,693.8 416.0,686.1 419.0,678.2 422.1,670.1 425.3,661.8 428.6,653.2 432.0,644.3 435.5,635.1 439.1,625.7 442.9,615.9 446.8,605.8 450.9,595.3 455.1,584.5 459.6,573.2 464.2,561.4 469.0,549.1 474.1,536.3 479.5,522.9 485.1,508.9 491.0,494.1 497.3,478.5 504.0,462.1 511.2,444.6 511.2,444.6"/>
<polyline points="425.6,722.6 428.1,715.7 430.7,708.6 433.3,701.3 436.1,693.8 438.9,686.1 441.8,678.2 444.8,670.1 447.9,661.8 451.1,653.2 454.4,644.3 457.8,635.1 461.3,625.7 465.0,615.9 468.8,605.8 472.8,595.3 477.0,584.5 481.3,573.2 485.8,561.4 490.6,549.1 495.5,536.3 500.7,522.9 506.2,508.9 512.1,494.1 518.2,478.5 524.8,462.1 531.7,444.6 531.7,444.6"/>
<polyline points="469.4,722.6 471.8,715.7 474.3,708.6 476.8,701.3 479.4,693.8 482.0,686.1 484.8,678.2 487.6,670.1 490.6,661.8 493.6,653.2 496.7,644.3 500.0,635.1 503.3,625.7 506.8,615.9 510.5,605.8 514.3,595.3 518.2,584.5 522.3,573.2 526.6,561.4 531.2,549.1 535.9,536.3 540.9,522.9 546.1,508.9 551.7,494.1 557.6,478.5 563.8,462.1 570.5,444.6 570.5,444.6"/>
<polyline points="502.0,722.6 504.3,715.7 506.6,708.6 509.0,701.3 511.5,693.8 514.1,686.1 516.7,678.2 519.4,670.1 522.2,661.8 525.1,653.2 528.1,644.3 531.3,635.1 534.5,625.7 537.8,615.9 541.3,605.8 545.0,595.3 548.8,584.5 552.7,573.2 556.9,561.4 561.2,549.1 565.8,536.3 570.6,522.9 575.6,508.9 581.0,494.1 586.6,478.5 592.7,462.1 599.1,444.6 599.1,444.6"/>
<polyline points="528.2,722.6 530.4,715.7 532.6,708.6 535.0,701.3 537.3,693.8 539.8,686.1 542.3,678.2 544.9,670.1 547.6,661.8 550.4,653.2 553.3,644.3 556.4,635.1 559.5,625.7 562.7,615.9 566.1,605.8 569.6,595.3 573.2,584.5 577.1,573.2 581.1,561.4 585.3,549.1 589.7,536.3 594.3,522.9 599.2,508.9 604.4,494.1 609.9,478.5 615.8,462.1 622.0,444.6 622.0,444.6"/>
<polyline points="550.2,722.6 552.3,715.7 554.5,708.6 556.7,701.3 559.0,693.8 561.4,686.1 563.9,678.2 566.4,670.1 569.0,661.8 571.7,653.2 574.5,644.3 577.4,635.1 580.4,625.7 583.6,615.9 586.8,605.8 590.2,595.3 593.8,584.5 597.5,573.2 601.4,561.4 605.5,549.1 609.7,536.3 614.3,522.9 619.0,508.9 624.1,494.1 629.4,478.5 635.1,462.1 641.2,444.6 641.2,444.6"/>
<polyline points="569.3,722.6 571.4,715.7 573.5,708.6 575.6,701.3 577.8,693.8 580.1,686.1 582.5,678.2 585.0,670.1 587.5,661.8 590.1,653.2 592.8,644.3 595.7,635.1 598.6,625.7 601.6,615.9 604.8,605.8 608.1,595.3 611.6,584.5 615.2,573.2 618.9,561.4 622.9,549.1 627.1,536.3 631.5,522.9 636.1,508.9 641.0,494.1 646.2,478.5 651.8,462.1 657.7,444.6 657.7,444.6"/>
<polyline points="586.2,722.6 588.2,715.7 590.2,708.6 592.3,701.3 594.5,693.8 596.7,686.1 599.0,678.2 601.4,670.1 603.9,661.8 606.4,653.2 609.0,644.3 611.8,635.1 614.6,625.7 617.6,615.9 620.7,605.8 623.9,595.3 627.3,584.5 630.8,573.2 634.5,561.4 638.3,549.1 642.4,536.3 646.7,522.9 651.2,508.9 656.0,494.1 661.1,478.5 666.5,462.1 672.3,444.6 672.3,444.6"/>
</g>
<line x1="324.59" y1="722.63" x2="817.76" y2="45.20" stroke="#1E3CFF" stroke-width="2.3"/>
</g>
<g stroke="#000" stroke-width="1.6">
<line x1="60.2" y1="244.90" x2="605.2" y2="244.90"/>
<line x1="60.2" y1="361.71" x2="605.2" y2="361.71"/>
<line x1="60.2" y1="444.59" x2="605.2" y2="444.59"/>
<line x1="60.2" y1="508.88" x2="605.2" y2="508.88"/>
<line x1="60.2" y1="561.41" x2="605.2" y2="561.41"/>
<line x1="60.2" y1="605.82" x2="605.2" y2="605.82"/>
<line x1="60.2" y1="644.29" x2="605.2" y2="644.29"/>
<line x1="60.2" y1="678.22" x2="605.2" y2="678.22"/>
<line x1="60.2" y1="708.57" x2="605.2" y2="708.57"/>
<line x1="60.2" y1="45.20" x2="65.2" y2="45.20"/>
</g>
<rect x="65.2" y="45.20" width="540.0" height="677.43" fill="none" stroke="#000" stroke-width="2.1"/>
<polyline fill="none" stroke="#00DC00" stroke-width="4" stroke-linejoin="round" stroke-linecap="round" points="179.8,217.6 156.9,258.6 263.75,277.1 281.3,293.5 271.7,311.8 273.6,330.5 291.6,350 308,369.8 349,408.5 372.4,432.4 375.9,444.8 383,463.6 395.9,490 404,507.6 408.3,525.2 406.9,549.8 371.25,561.5 282.2,593.1 261.1,610.7 269.3,627.1 343.1,642.3 399.4,652.9 405.4,664.5 398.6,680.5 390.8,693.2 385.5,709.7 392.8,710.9"/>
<polyline fill="none" stroke="#FA3C3C" stroke-width="4" stroke-linejoin="round" stroke-linecap="round" points="360.7,44.9 357.2,59.5 353.7,77.1 350.9,104.5 345.5,135.7 342,153.3 339.6,168.9 343,194.6 340.4,218 326.3,245 308.75,276.6 311.1,294.2 325.2,320 333.75,330 345.5,346.4 352,360.5 366.6,389.8 377.1,408.5 384.1,433.1 391.2,447.2 405.2,477.7 414.6,508.1 420.5,525.2 425.2,550.9 429.8,572 446.25,611.9 450.9,628.3 445.8,640 444.6,654.1 472.8,678.5 488.4,692.2 508.4,709.3 486.3,710.9"/>
<text transform="translate(123.40,15.20) scale(1.200,1)" font-size="17.2" letter-spacing="0.956" word-spacing="5.68" fill="#000">2025101211 HRRR BUFR Sounding for KTLH</text>
<text transform="translate(160.00,38.10) scale(1.200,1)" font-size="17.2" letter-spacing="1.428" word-spacing="5.68" fill="#000">13h forecast valid 2025101300 (Mon)</text>
<text transform="translate(29.30,51.10) scale(0.877,1)" font-size="17.2" letter-spacing="0.400" fill="#000" stroke="#000" stroke-width="0.25">100</text>
<text transform="translate(29.30,250.80) scale(0.877,1)" font-size="17.2" letter-spacing="0.400" fill="#000" stroke="#000" stroke-width="0.25">200</text>
<text transform="translate(29.30,367.61) scale(0.877,1)" font-size="17.2" letter-spacing="0.400" fill="#000" stroke="#000" stroke-width="0.25">300</text>
<text transform="translate(29.30,450.49) scale(0.877,1)" font-size="17.2" letter-spacing="0.400" fill="#000" stroke="#000" stroke-width="0.25">400</text>
<text transform="translate(29.30,514.78) scale(0.877,1)" font-size="17.2" letter-spacing="0.400" fill="#000" stroke="#000" stroke-width="0.25">500</text>
<text transform="translate(29.30,567.31) scale(0.877,1)" font-size="17.2" letter-spacing="0.400" fill="#000" stroke="#000" stroke-width="0.25">600</text>
<text transform="translate(29.30,611.72) scale(0.877,1)" font-size="17.2" letter-spacing="0.400" fill="#000" stroke="#000" stroke-width="0.25">700</text>
<text transform="translate(29.30,650.19) scale(0.877,1)" font-size="17.2" letter-spacing="0.400" fill="#000" stroke="#000" stroke-width="0.25">800</text>
<text transform="translate(29.30,684.12) scale(0.877,1)" font-size="17.2" letter-spacing="0.400" fill="#000" stroke="#000" stroke-width="0.25">900</text>
<text transform="translate(20.80,714.47) scale(0.872,1)" font-size="17.2" letter-spacing="0.400" fill="#000" stroke="#000" stroke-width="0.25">1000</text>
<text transform="translate(20.80,0.00) rotate(-90) translate(-448.00,0.00) scale(1.086,1)" font-size="17.3" letter-spacing="0.400" word-spacing="3.46" fill="#000" stroke="#000" stroke-width="0.55">Pressure (mb)</text>
<text transform="translate(97.70,742.50) scale(1.200,1)" font-size="18.7" letter-spacing="1.485" fill="#3C50FF">−30</text>
<text transform="translate(165.30,742.50) scale(1.200,1)" font-size="18.7" letter-spacing="1.235" fill="#3C50FF">−20</text>
<text transform="translate(232.30,742.50) scale(1.200,1)" font-size="18.7" letter-spacing="1.235" fill="#3C50FF">−10</text>
<text transform="translate(313.82,742.50) scale(1.200,1)" font-size="18.7" letter-spacing="0.000" fill="#3C50FF">0</text>
<text transform="translate(377.90,742.50) scale(1.120,1)" font-size="18.7" letter-spacing="0.400" fill="#3C50FF">10</text>
<text transform="translate(443.50,742.50) scale(1.134,1)" font-size="18.7" letter-spacing="0.400" fill="#3C50FF">20</text>
<text transform="translate(510.50,742.50) scale(1.134,1)" font-size="18.7" letter-spacing="0.400" fill="#3C50FF">30</text>
<text transform="translate(578.20,742.50) scale(1.163,1)" font-size="18.7" letter-spacing="0.400" fill="#3C50FF">40</text>
<text transform="translate(247.30,759.70) scale(1.195,1)" font-size="16" letter-spacing="0.400" word-spacing="3.20" fill="#1E3CFF" stroke="#1E3CFF" stroke-width="0.55">Temperature (<tspan font-weight="bold">°</tspan>C)</text>
<text transform="translate(557.20,759.80) scale(1.180,1)" font-size="13.8" letter-spacing="1.952" fill="#FA3C3C">coolwx.com/modelts</text>
<text transform="translate(339.69,439.30) scale(1.150,1)" font-size="11" letter-spacing="0.000" fill="#A000C8">1</text>
<text transform="translate(393.49,439.30) scale(1.150,1)" font-size="11" letter-spacing="0.000" fill="#A000C8">2</text>
<text transform="translate(426.69,439.30) scale(1.150,1)" font-size="11" letter-spacing="0.000" fill="#A000C8">3</text>
<text transform="translate(450.29,439.30) scale(1.150,1)" font-size="11" letter-spacing="0.000" fill="#A000C8">4</text>
<text transform="translate(485.79,439.30) scale(1.150,1)" font-size="11" letter-spacing="0.000" fill="#A000C8">6</text>
<text transform="translate(511.69,439.30) scale(1.150,1)" font-size="11" letter-spacing="0.000" fill="#A000C8">8</text>
<text transform="translate(533.50,439.30) scale(1.150,1)" font-size="11" letter-spacing="0.486" fill="#A000C8">10</text>
<text transform="translate(572.90,439.30) scale(1.150,1)" font-size="11" letter-spacing="0.486" fill="#A000C8">15</text>
<text transform="translate(600.40,439.30) scale(1.150,1)" font-size="11" letter-spacing="1.529" fill="#A000C8">20</text>
<text transform="translate(613.00,501.90) scale(1.150,1)" font-size="11" letter-spacing="0.920" fill="#A000C8">25</text>
<text transform="translate(613.00,561.20) scale(1.150,1)" font-size="11" letter-spacing="0.920" fill="#A000C8">30</text>
<text transform="translate(613.00,615.20) scale(1.150,1)" font-size="11" letter-spacing="0.920" fill="#A000C8">35</text>
<text transform="translate(613.00,665.00) scale(1.150,1)" font-size="11" letter-spacing="0.920" fill="#A000C8">40</text>
<text transform="translate(648.70,0.00) rotate(-90) translate(-584.70,0.00) scale(1.144,1)" font-size="17" letter-spacing="0.400" word-spacing="2.04" fill="#A000C8" stroke="#A000C8" stroke-width="0.4">Mixing Ratio (g/kg)</text>
<line x1="698.0" y1="45.20" x2="698.0" y2="722.63" stroke="#1e1e1e" stroke-width="1.1"/>
<g stroke-linecap="round" stroke-linejoin="round">
<path d="M698.0,78.9L694.3,47.4M694.3,47.4L706.8,46.0" fill="none" stroke="#1E9BFF" stroke-width="1.6"/><rect x="696.4" y="77.3" width="3.2" height="3.2" fill="#1E9BFF"/>
<path d="M698.0,112.3L695.7,80.7M695.7,80.7L708.1,79.8" fill="none" stroke="#0A8CFF" stroke-width="1.6"/><rect x="696.4" y="110.7" width="3.2" height="3.2" fill="#0A8CFF"/>
<path d="M698.0,142.2L703.8,111.0M703.8,111.0L716.1,113.3" fill="none" stroke="#0A8CFF" stroke-width="1.6"/><rect x="696.4" y="140.6" width="3.2" height="3.2" fill="#0A8CFF"/>
<path d="M698.0,169.5L706.3,138.9M706.3,138.9L718.4,142.2M705.2,143.2L711.2,144.8" fill="none" stroke="#28AAFF" stroke-width="1.6"/><rect x="696.4" y="167.9" width="3.2" height="3.2" fill="#28AAFF"/>
<path d="M698.0,194.5L704.5,163.5M704.5,163.5L716.7,166.0M703.6,167.8L715.8,170.3" fill="none" stroke="#00E0FF" stroke-width="1.6"/><rect x="696.4" y="192.9" width="3.2" height="3.2" fill="#00E0FF"/>
<path d="M698.0,217.5L698.6,185.8M698.6,185.8L711.1,186.0M698.5,190.2L711.0,190.4M698.4,194.6L710.9,194.8" fill="none" stroke="#00EB96" stroke-width="1.6"/><rect x="696.4" y="215.9" width="3.2" height="3.2" fill="#00EB96"/>
<path d="M698.0,239.5L707.9,209.4M707.9,209.4L719.8,213.3M706.5,213.6L718.4,217.5M705.2,217.7L717.0,221.7" fill="none" stroke="#00EB82" stroke-width="1.6"/><rect x="696.4" y="237.9" width="3.2" height="3.2" fill="#00EB82"/>
<path d="M698.0,258.8L711.4,230.0M711.4,230.0L722.8,235.3M709.6,234.0L720.9,239.3M707.7,238.0L719.0,243.3M705.8,242.0L717.2,247.3M704.0,246.0L709.6,248.6" fill="none" stroke="#3CEB1E" stroke-width="1.6"/><rect x="696.4" y="257.1" width="3.2" height="3.2" fill="#3CEB1E"/>
<path d="M698.0,277.0L704.8,246.0M703.3,252.9L709.4,254.2" fill="none" stroke="#BEF014" stroke-width="1.6"/><path d="M704.8,246.0L715.2,249.8L703.9,250.1Z" fill="#BEF014" stroke="#BEF014" stroke-width="0.8"/><rect x="696.4" y="275.4" width="3.2" height="3.2" fill="#BEF014"/>
<path d="M698.0,294.5L702.3,263.1" fill="none" stroke="#AAF000" stroke-width="1.6"/><path d="M702.3,263.1L713.0,266.1L701.7,267.3Z" fill="#AAF000" stroke="#AAF000" stroke-width="0.8"/><rect x="696.4" y="292.9" width="3.2" height="3.2" fill="#AAF000"/>
<path d="M698.0,312.5L708.4,282.6" fill="none" stroke="#8CF000" stroke-width="1.6"/><path d="M708.4,282.6L718.3,287.6L707.1,286.5Z" fill="#8CF000" stroke="#8CF000" stroke-width="0.8"/><rect x="696.4" y="310.9" width="3.2" height="3.2" fill="#8CF000"/>
<path d="M698.0,330.6L710.2,301.3" fill="none" stroke="#78F000" stroke-width="1.6"/><path d="M710.2,301.3L719.7,306.9L708.5,305.2Z" fill="#78F000" stroke="#78F000" stroke-width="0.8"/><rect x="696.4" y="329.0" width="3.2" height="3.2" fill="#78F000"/>
<path d="M698.0,349.4L707.2,319.1M707.2,319.1L719.1,322.7M705.9,323.3L717.9,326.9M704.6,327.5L716.6,331.1M703.3,331.7L715.3,335.3" fill="none" stroke="#5AF000" stroke-width="1.6"/><rect x="696.4" y="347.8" width="3.2" height="3.2" fill="#5AF000"/>
<path d="M698.0,368.9L703.9,337.7M703.9,337.7L716.2,340.1M703.1,342.1L715.3,344.4M702.2,346.4L714.5,348.7M701.4,350.7L713.7,353.0" fill="none" stroke="#32EB28" stroke-width="1.6"/><rect x="696.4" y="367.3" width="3.2" height="3.2" fill="#32EB28"/>
<path d="M698.0,389.5L702.5,358.1M702.5,358.1L714.9,359.9M701.9,362.5L714.3,364.3M701.3,366.8L713.7,368.6M700.6,371.2L713.0,373.0" fill="none" stroke="#00EB5A" stroke-width="1.6"/><rect x="696.4" y="387.9" width="3.2" height="3.2" fill="#00EB5A"/>
<path d="M698.0,409.8L701.9,378.3M701.9,378.3L714.3,379.9M701.3,382.7L713.7,384.2M700.8,387.1L713.2,388.6M700.3,391.4L706.5,392.2" fill="none" stroke="#00EB64" stroke-width="1.6"/><rect x="696.4" y="408.2" width="3.2" height="3.2" fill="#00EB64"/>
<path d="M698.0,431.9L700.2,400.3M700.2,400.3L712.7,401.2M699.9,404.7L712.4,405.5M699.6,409.1L712.1,409.9" fill="none" stroke="#00EB6E" stroke-width="1.6"/><rect x="696.4" y="430.3" width="3.2" height="3.2" fill="#00EB6E"/>
<path d="M698.0,454.0L699.7,422.3M699.7,422.3L712.2,423.0M699.5,426.7L712.0,427.4M699.2,431.1L711.7,431.8" fill="none" stroke="#00EB82" stroke-width="1.6"/><rect x="696.4" y="452.4" width="3.2" height="3.2" fill="#00EB82"/>
<path d="M698.0,477.5L699.4,445.8M699.4,445.8L711.9,446.4M699.2,450.2L711.7,450.8M699.0,454.6L711.5,455.2" fill="none" stroke="#00EB96" stroke-width="1.6"/><rect x="696.4" y="475.9" width="3.2" height="3.2" fill="#00EB96"/>
<path d="M698.0,500.5L702.2,469.1M702.2,469.1L714.6,470.8M701.7,473.4L714.0,475.1M701.1,477.8L707.3,478.6" fill="none" stroke="#00EBA0" stroke-width="1.6"/><rect x="696.4" y="498.9" width="3.2" height="3.2" fill="#00EBA0"/>
<path d="M698.0,525.3L700.2,493.7M700.2,493.7L712.7,494.5M699.9,498.1L712.4,498.9M699.6,502.5L705.8,502.9" fill="none" stroke="#00E6E6" stroke-width="1.6"/><rect x="696.4" y="523.7" width="3.2" height="3.2" fill="#00E6E6"/>
<path d="M698.0,549.5L697.5,517.8M697.5,517.8L710.0,517.6M697.6,522.2L710.1,522.0M697.6,526.6L703.9,526.5" fill="none" stroke="#00EBAA" stroke-width="1.6"/><rect x="696.4" y="547.9" width="3.2" height="3.2" fill="#00EBAA"/>
<path d="M698.0,573.3L692.0,542.2M692.0,542.2L704.3,539.8M692.9,546.5L705.1,544.1" fill="none" stroke="#00EB82" stroke-width="1.6"/><rect x="696.4" y="571.7" width="3.2" height="3.2" fill="#00EB82"/>
<path d="M698.0,594.1L690.6,563.3M690.6,563.3L702.8,560.4M691.6,567.6L703.8,564.6" fill="none" stroke="#00D2FF" stroke-width="1.6"/><rect x="696.4" y="592.5" width="3.2" height="3.2" fill="#00D2FF"/>
<path d="M698.0,611.7L689.6,581.1M689.6,581.1L701.6,577.8M690.7,585.4L702.8,582.1" fill="none" stroke="#00DCFF" stroke-width="1.6"/><rect x="696.4" y="610.1" width="3.2" height="3.2" fill="#00DCFF"/>
<path d="M698.0,627.3L689.9,596.6M689.9,596.6L702.0,593.5M691.1,600.9L697.1,599.3" fill="none" stroke="#1EBEFF" stroke-width="1.6"/><rect x="696.4" y="625.7" width="3.2" height="3.2" fill="#1EBEFF"/>
<path d="M698.0,640.5L687.3,610.7M687.3,610.7L699.1,606.4" fill="none" stroke="#1E96FF" stroke-width="1.6"/><rect x="696.4" y="638.9" width="3.2" height="3.2" fill="#1E96FF"/>
<path d="M698.0,654.0L700.2,622.4M699.9,626.8L706.1,627.2" fill="none" stroke="#0A8CFF" stroke-width="1.6"/><rect x="696.4" y="652.4" width="3.2" height="3.2" fill="#0A8CFF"/>
<path d="M698.0,664.2L708.8,634.4M707.3,638.5L713.2,640.7" fill="none" stroke="#0A8CFF" stroke-width="1.6"/><rect x="696.4" y="662.6" width="3.2" height="3.2" fill="#0A8CFF"/>
<path d="M698.0,673.5L707.3,643.2M706.0,647.4L712.0,649.2" fill="none" stroke="#0A8CFF" stroke-width="1.6"/><rect x="696.4" y="671.9" width="3.2" height="3.2" fill="#0A8CFF"/>
<path d="M698.0,682.5L704.6,651.5M703.7,655.8L709.8,657.1" fill="none" stroke="#0A8CFF" stroke-width="1.6"/><rect x="696.4" y="680.9" width="3.2" height="3.2" fill="#0A8CFF"/>
<path d="M698.0,690.0L700.8,658.4M700.4,662.8L706.6,663.3" fill="none" stroke="#0A8CFF" stroke-width="1.6"/><rect x="696.4" y="688.4" width="3.2" height="3.2" fill="#0A8CFF"/>
<path d="M698.0,696.0L699.1,664.3M699.0,668.7L705.2,668.9" fill="none" stroke="#0A8CFF" stroke-width="1.6"/><rect x="696.4" y="694.4" width="3.2" height="3.2" fill="#0A8CFF"/>
<path d="M698.0,700.0L698.0,668.3M698.0,672.7L704.2,672.7" fill="none" stroke="#0A8CFF" stroke-width="1.6"/><rect x="696.4" y="698.4" width="3.2" height="3.2" fill="#0A8CFF"/>
<path d="M698.0,703.5L696.9,671.8M697.0,676.2L703.3,676.0" fill="none" stroke="#0A8CFF" stroke-width="1.6"/><rect x="696.4" y="701.9" width="3.2" height="3.2" fill="#0A8CFF"/>
<path d="M698.0,708.5L689.8,677.9" fill="none" stroke="#1E64FF" stroke-width="1.6"/><rect x="696.4" y="706.9" width="3.2" height="3.2" fill="#1E64FF"/>
<path d="M698.0,712.7L696.3,681.0" fill="none" stroke="#0A8CFF" stroke-width="1.6"/><rect x="696.4" y="711.1" width="3.2" height="3.2" fill="#0A8CFF"/>
</g>
<defs><clipPath id="hc"><rect x="745.0" y="45.0" width="186.0" height="180.5"/></clipPath></defs>
<g clip-path="url(#hc)" fill="none" stroke="#000" stroke-width="1.25">
<ellipse cx="838.0" cy="135.3" rx="30.9" ry="30.03"/>
<ellipse cx="838.0" cy="135.3" rx="61.8" ry="60.07"/>
<ellipse cx="838.0" cy="135.3" rx="92.7" ry="90.10"/>
<line x1="745.0" y1="135.3" x2="931.0" y2="135.3"/><line x1="838.0" y1="45.0" x2="838.0" y2="225.5"/>
<path d="M745.3,132.60000000000002V138.0M835.3,45.2H840.7M755.6,132.60000000000002V138.0M835.3,55.2H840.7M765.9,132.60000000000002V138.0M835.3,65.2H840.7M776.2,132.60000000000002V138.0M835.3,75.2H840.7M786.5,132.60000000000002V138.0M835.3,85.2H840.7M796.8,132.60000000000002V138.0M835.3,95.3H840.7M807.1,132.60000000000002V138.0M835.3,105.3H840.7M817.4,132.60000000000002V138.0M835.3,115.3H840.7M827.7,132.60000000000002V138.0M835.3,125.3H840.7M848.3,132.60000000000002V138.0M835.3,145.3H840.7M858.6,132.60000000000002V138.0M835.3,155.3H840.7M868.9,132.60000000000002V138.0M835.3,165.3H840.7M879.2,132.60000000000002V138.0M835.3,175.3H840.7M889.5,132.60000000000002V138.0M835.3,185.4H840.7M899.8,132.60000000000002V138.0M835.3,195.4H840.7M910.1,132.60000000000002V138.0M835.3,205.4H840.7M920.4,132.60000000000002V138.0M835.3,215.4H840.7M930.7,132.60000000000002V138.0M835.3,225.4H840.7"/>
</g>
<rect x="745.0" y="45.0" width="186.0" height="180.5" fill="none" stroke="#000" stroke-width="1.5"/>
<text transform="translate(750.20,58.90) scale(1.200,1)" font-size="12" letter-spacing="0.684" fill="#000">knots</text>
<text transform="translate(816.60,155.20) rotate(-45) translate(-8.50,4.50) scale(1.150,1)" font-size="12.5" letter-spacing="0.908" fill="#000">15</text>
<text transform="translate(794.30,177.60) rotate(-45) translate(-8.50,4.50) scale(1.150,1)" font-size="12.5" letter-spacing="0.908" fill="#000">30</text>
<text transform="translate(772.40,198.90) rotate(-45) translate(-8.50,4.50) scale(1.150,1)" font-size="12.5" letter-spacing="0.908" fill="#000">45</text>
<line x1="838.0" y1="135.3" x2="819.4" y2="165.7" stroke="#FA3C3C" stroke-width="1.2"/>
<path d="M820.3,157.6L826,161.2L820.0,164.6Z" fill="#FA3C3C" stroke="#FA3C3C" stroke-width="1"/>
<polyline fill="none" stroke="#00DC00" stroke-width="2.4" stroke-linejoin="round" stroke-linecap="round" points="840,143.4 840.2,149 833,148 839,151 840.2,154.5 840.6,150 842.6,149.6 847.3,173.8"/>
<rect x="838.2" y="141.6" width="3.6" height="3.6" fill="#00DC00"/><circle cx="847.3" cy="174" r="2.4" fill="#00DC00"/>
<g fill="none" stroke="#2a2a2a" stroke-width="1.25"><rect x="768.2" y="270.7" width="158.5999999999999" height="402.2"/>
<line x1="768.2" y1="329.3" x2="926.8" y2="329.3"/>
<line x1="768.2" y1="456.8" x2="926.8" y2="456.8"/>
<line x1="768.2" y1="582.5" x2="926.8" y2="582.5"/>
</g>
<text transform="translate(772.32,289.30) scale(1.180,1)" font-size="12.3" letter-spacing="0.000" fill="#000">K</text>
<text transform="translate(870.97,289.30) scale(1.180,1)" font-size="12.3" letter-spacing="0.000" fill="#000">1</text>
<text transform="translate(773.40,306.90) scale(0.824,1)" font-size="12.3" letter-spacing="0.400" fill="#000">TT</text>
<text transform="translate(871.50,306.90) scale(1.180,1)" font-size="12.3" letter-spacing="0.584" fill="#000">36</text>
<text transform="translate(773.40,320.90) scale(1.151,1)" font-size="12.3" letter-spacing="0.400" word-spacing="4.06" fill="#000">PW (cm)</text>
<text transform="translate(871.50,320.90) scale(1.180,1)" font-size="12.3" letter-spacing="0.641" fill="#000">2.30</text>
<text transform="translate(795.90,347.90) scale(1.167,1)" font-size="12.3" letter-spacing="0.400" word-spacing="4.06" fill="#000">Lowest level</text>
<text transform="translate(792.60,474.40) scale(1.170,1)" font-size="12.3" letter-spacing="0.400" word-spacing="4.06" fill="#000">Most Unstable</text>
<text transform="translate(806.60,596.20) scale(1.180,1)" font-size="12.3" letter-spacing="0.461" fill="#000">Hodograph</text>
<text transform="translate(773.40,370.40) scale(1.180,1)" font-size="12.3" letter-spacing="0.681" word-spacing="4.06" fill="#000">Press (mb)</text>
<text transform="translate(873.00,370.40) scale(1.158,1)" font-size="12.3" letter-spacing="0.400" fill="#000">1008.1</text>
<text transform="translate(773.40,384.00) scale(1.178,1)" font-size="12.3" letter-spacing="0.400" word-spacing="4.06" fill="#000">Temp (<tspan font-weight="bold">°</tspan>C)</text>
<text transform="translate(871.50,384.00) scale(1.180,1)" font-size="12.3" letter-spacing="0.641" fill="#000">22.8</text>
<text transform="translate(773.40,397.70) scale(1.143,1)" font-size="12.3" letter-spacing="0.400" word-spacing="4.06" fill="#000">Dewp (<tspan font-weight="bold">°</tspan>C)</text>
<text transform="translate(871.50,397.70) scale(1.180,1)" font-size="12.3" letter-spacing="0.562" fill="#000">8.8</text>
<text transform="translate(773.4,411.10) scale(1.18,1)" font-size="12.3" fill="#000"><tspan font-weight="bold" font-style="italic" font-size="13">θ</tspan><tspan font-size="6.5" font-weight="bold" dy="1.5">E</tspan><tspan dy="-1.5" letter-spacing="1.4"> (K)</tspan></text>
<text transform="translate(871.50,411.10) scale(1.180,1)" font-size="12.3" letter-spacing="0.814" fill="#000">315.7</text>
<text transform="translate(773.40,424.80) scale(1.123,1)" font-size="12.3" letter-spacing="0.400" word-spacing="4.06" fill="#000">LI (<tspan font-weight="bold">°</tspan>C)</text>
<text transform="translate(871.50,424.80) scale(1.180,1)" font-size="12.3" letter-spacing="0.562" fill="#000">9.9</text>
<text transform="translate(773.40,438.20) scale(1.18,1)" font-size="12.3" letter-spacing="0.120" word-spacing="4.06" fill="#000">CAPE (Jkg<tspan font-size="7.38" dy="-4.6">-1</tspan><tspan dy="4.6">)</tspan></text>
<text transform="translate(871.17,438.20) scale(1.180,1)" font-size="12.3" letter-spacing="0.000" fill="#000">0</text>
<text transform="translate(773.40,452.10) scale(1.18,1)" font-size="12.3" letter-spacing="0.253" word-spacing="4.06" fill="#000">CIN (Jkg<tspan font-size="7.38" dy="-4.6">-1</tspan><tspan dy="4.6">)</tspan></text>
<text transform="translate(871.17,452.10) scale(1.180,1)" font-size="12.3" letter-spacing="0.000" fill="#000">0</text>
<text transform="translate(773.40,497.00) scale(1.180,1)" font-size="12.3" letter-spacing="0.681" word-spacing="4.06" fill="#000">Press (mb)</text>
<text transform="translate(871.50,497.00) scale(1.180,1)" font-size="12.3" letter-spacing="0.814" fill="#000">886.8</text>
<text transform="translate(773.40,510.50) scale(1.178,1)" font-size="12.3" letter-spacing="0.400" word-spacing="4.06" fill="#000">Temp (<tspan font-weight="bold">°</tspan>C)</text>
<text transform="translate(871.50,510.50) scale(1.180,1)" font-size="12.3" letter-spacing="0.641" fill="#000">22.8</text>
<text transform="translate(773.40,523.80) scale(1.143,1)" font-size="12.3" letter-spacing="0.400" word-spacing="4.06" fill="#000">Dewp (<tspan font-weight="bold">°</tspan>C)</text>
<text transform="translate(871.50,523.80) scale(1.180,1)" font-size="12.3" letter-spacing="0.562" fill="#000">8.8</text>
<text transform="translate(773.4,537.60) scale(1.18,1)" font-size="12.3" fill="#000"><tspan font-weight="bold" font-style="italic" font-size="13">θ</tspan><tspan font-size="6.5" font-weight="bold" dy="1.5">E</tspan><tspan dy="-1.5" letter-spacing="1.4"> (K)</tspan></text>
<text transform="translate(871.50,537.60) scale(1.180,1)" font-size="12.3" letter-spacing="0.814" fill="#000">318.9</text>
<text transform="translate(773.40,551.25) scale(1.123,1)" font-size="12.3" letter-spacing="0.400" word-spacing="4.06" fill="#000">LI (<tspan font-weight="bold">°</tspan>C)</text>
<text transform="translate(871.50,551.25) scale(1.180,1)" font-size="12.3" letter-spacing="0.562" fill="#000">7.9</text>
<text transform="translate(773.40,564.90) scale(1.18,1)" font-size="12.3" letter-spacing="0.120" word-spacing="4.06" fill="#000">CAPE (Jkg<tspan font-size="7.38" dy="-4.6">-1</tspan><tspan dy="4.6">)</tspan></text>
<text transform="translate(871.17,564.90) scale(1.180,1)" font-size="12.3" letter-spacing="0.000" fill="#000">0</text>
<text transform="translate(773.40,578.20) scale(1.18,1)" font-size="12.3" letter-spacing="0.253" word-spacing="4.06" fill="#000">CIN (Jkg<tspan font-size="7.38" dy="-4.6">-1</tspan><tspan dy="4.6">)</tspan></text>
<text transform="translate(871.17,578.20) scale(1.180,1)" font-size="12.3" letter-spacing="0.000" fill="#000">0</text>
<text transform="translate(773.40,614.10) scale(1.18,1)" font-size="12.3" letter-spacing="0.350" word-spacing="4.06" fill="#000">EH (Jkg<tspan font-size="7.38" dy="-4.6">-1</tspan><tspan dy="4.6">)</tspan></text>
<text transform="translate(871.17,614.10) scale(1.180,1)" font-size="12.3" letter-spacing="0.000" fill="#000">0</text>
<text transform="translate(773.40,627.80) scale(1.18,1)" font-size="12.3" letter-spacing="0.204" word-spacing="4.06" fill="#000">SREH (Jkg<tspan font-size="7.38" dy="-4.6">-1</tspan><tspan dy="4.6">)</tspan></text>
<text transform="translate(871.50,627.80) scale(1.180,1)" font-size="12.3" letter-spacing="0.584" fill="#000">28</text>
<text transform="translate(773.40,650.50) scale(1.180,1)" font-size="12.3" letter-spacing="0.532" word-spacing="4.06" fill="#000">StmDir (<tspan font-weight="bold">°</tspan>)</text>
<text transform="translate(871.50,650.50) scale(1.180,1)" font-size="12.3" letter-spacing="0.584" fill="#000">30</text>
<text transform="translate(773.40,664.10) scale(1.180,1)" font-size="12.3" letter-spacing="0.684" word-spacing="4.06" fill="#000">StmSpd (kt)</text>
<text transform="translate(873.00,664.10) scale(1.089,1)" font-size="12.3" letter-spacing="0.400" fill="#000">17</text>
<text transform="translate(751.50,705.50) scale(1.200,1)" font-size="15" letter-spacing="0.571" word-spacing="4.95" fill="#000">NCEP 1-Hr PType:</text>
<line x1="744.6" y1="711.3" x2="931.5" y2="711.3" stroke="#000" stroke-width="1.3"/>
<text transform="translate(815.90,728.50) scale(1.190,1)" font-size="15" letter-spacing="0.400" fill="#000">None</text>
<text transform="translate(806.70,750.00) scale(1.192,1)" font-size="12.5" letter-spacing="0.400" word-spacing="4.12" fill="#000">(0" L.E.)</text>
</svg></body></html>
